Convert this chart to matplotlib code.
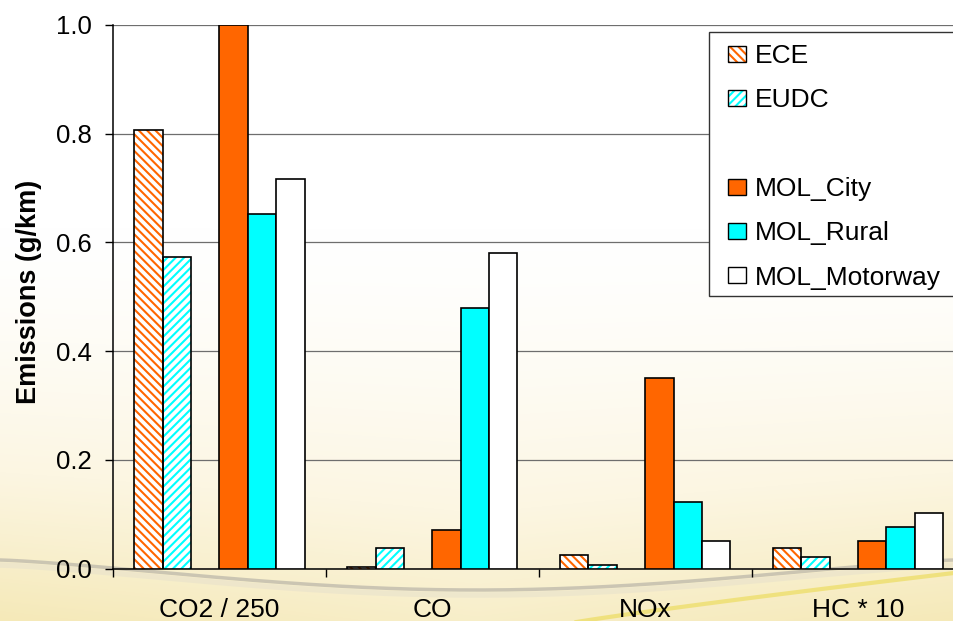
import numpy as np
import matplotlib
matplotlib.use('Agg')
import matplotlib.pyplot as plt
from matplotlib.patches import Patch, Rectangle
from matplotlib.legend_handler import HandlerTuple
from matplotlib.colors import LinearSegmentedColormap

plt.rcParams['font.family'] = ['Liberation Sans', 'DejaVu Sans']
plt.rcParams['hatch.linewidth'] = 1.5

# emissions per pollutant (CO2 scaled by 1/250, HC by 10)
pollutants = ['CO2 / 250', 'CO', 'NOx', 'HC * 10']
ece = [0.807, 0.003, 0.024, 0.037]
eudc = [0.574, 0.038, 0.007, 0.021]
mol_city = [1.0, 0.070, 0.350, 0.051]
mol_rural = [0.652, 0.479, 0.122, 0.077]
mol_motorway = [0.717, 0.580, 0.050, 0.103]

orange = '#FF6600'
cyan = '#00FFFF'

W, H = 954, 621
fig = plt.figure(figsize=(W / 100, H / 100), dpi=100)

# warm slide background with a soft swoosh near the bottom
bg = fig.add_axes([0, 0, 1, 1], zorder=-10)
bg.set_xlim(0, W)
bg.set_ylim(H, 0)
bg.axis('off')
yy, xx = np.mgrid[0:H, 0:W]
warm = np.clip((yy / H - 0.35) / 0.65, 0, 1) ** 1.5
warm = warm * (0.8 + 0.2 * np.abs(xx / W - 0.5) * 2)
cmap = LinearSegmentedColormap.from_list('warm', ['#FFFFFF', '#FCF6E2', '#F5E9B8'])
bg.imshow(warm, cmap=cmap, extent=(0, W, H, 0), aspect='auto', vmin=0, vmax=1)
sx = np.linspace(0, W, 200)
arc = 560 + 30 * np.sin(np.pi * sx / W) ** 1.3
bg.plot(sx, arc, color='#B8B4A8', lw=2.5, alpha=0.7)
bg.plot(sx, arc + 5, color='#E8E2CC', lw=4, alpha=0.6)
gx = np.linspace(560, W, 100)
bg.plot(gx, 625 - 52 * ((gx - 560) / (W - 560)) ** 0.9, color='#EDDC60', lw=3, alpha=0.7)

ax = fig.add_axes([113 / W, 1 - 568.5 / H, 851.5 / W, 543.5 / H])
ax.set_facecolor('none')

x = np.arange(len(pollutants))
bw = 0.1332
slots = (np.arange(6) - 2.5) * bw

ax.bar(x + slots[0], ece, bw, facecolor='white', edgecolor=orange, lw=0, hatch='\\\\\\\\', zorder=3)
ax.bar(x + slots[0], ece, bw, fill=False, edgecolor='black', lw=1.2, zorder=4)
ax.bar(x + slots[1], eudc, bw, facecolor='white', edgecolor=cyan, lw=0, hatch='////', zorder=3)
ax.bar(x + slots[1], eudc, bw, fill=False, edgecolor='black', lw=1.2, zorder=4)
ax.bar(x + slots[3], mol_city, bw, color=orange, edgecolor='black', lw=1.2, zorder=3)
ax.bar(x + slots[4], mol_rural, bw, color=cyan, edgecolor='black', lw=1.2, zorder=3)
ax.bar(x + slots[5], mol_motorway, bw, color='white', edgecolor='black', lw=1.2, zorder=3)

ax.set_xlim(-0.5, 3.5)
ax.set_ylim(0, 1.0)
ax.set_yticks(np.arange(0, 1.01, 0.2))
ax.set_yticklabels(['%.1f' % v for v in np.arange(0, 1.01, 0.2)])
ax.yaxis.grid(True, color='#6E6E6E', lw=0.9)
ax.set_axisbelow(True)
ax.set_xticks([-0.5, 0.5, 1.5, 2.5])
ax.set_xticklabels([])
ax.set_xticks(x, minor=True)
ax.set_xticklabels(pollutants, minor=True)
ax.tick_params(axis='x', which='major', length=6, width=1, direction='out')
ax.tick_params(axis='x', which='minor', length=0, pad=21, labelsize=19)
ax.tick_params(axis='y', length=6, width=1, pad=9, labelsize=18.5)
for s in ['top', 'right']:
    ax.spines[s].set_visible(False)
for s in ['left', 'bottom']:
    ax.spines[s].set_color('black')
    ax.spines[s].set_linewidth(1.1)

fig.text(29 / W, 1 - 292 / H, 'Emissions (g/km)', rotation=90, ha='center', va='center',
         fontsize=19.5, fontweight='bold')

# legend box, drawn by hand so it can run off the right edge
fig.patches.append(Rectangle((709 / W, 1 - 296 / H), 260 / W, 264 / H, transform=fig.transFigure,
                             facecolor='white', edgecolor='#333333', lw=1.0, zorder=5))
handles = [
    (Patch(facecolor='white', edgecolor=orange, lw=0, hatch='\\\\\\\\'), Patch(fill=False, edgecolor='black', lw=1.0)),
    (Patch(facecolor='white', edgecolor=cyan, lw=0, hatch='////'), Patch(fill=False, edgecolor='black', lw=1.0)),
    Patch(fill=False, edgecolor='none'),
    Patch(facecolor=orange, edgecolor='black', lw=1.0),
    Patch(facecolor=cyan, edgecolor='black', lw=1.0),
    Patch(facecolor='white', edgecolor='black', lw=1.0),
]
labels = ['ECE', 'EUDC', '', 'MOL_City', 'MOL_Rural', 'MOL_Motorway']
leg = fig.legend(handles, labels, loc='upper left', bbox_to_anchor=(728 / W, 1 - 44 / H),
                 frameon=False, fontsize=19, borderpad=0, borderaxespad=0,
                 handlelength=0.68, handleheight=0.56, handletextpad=0.32, labelspacing=0.77,
                 handler_map={tuple: HandlerTuple(ndivide=1, pad=0)})
leg.set_zorder(6)

fig.savefig('out.png', dpi=100)
